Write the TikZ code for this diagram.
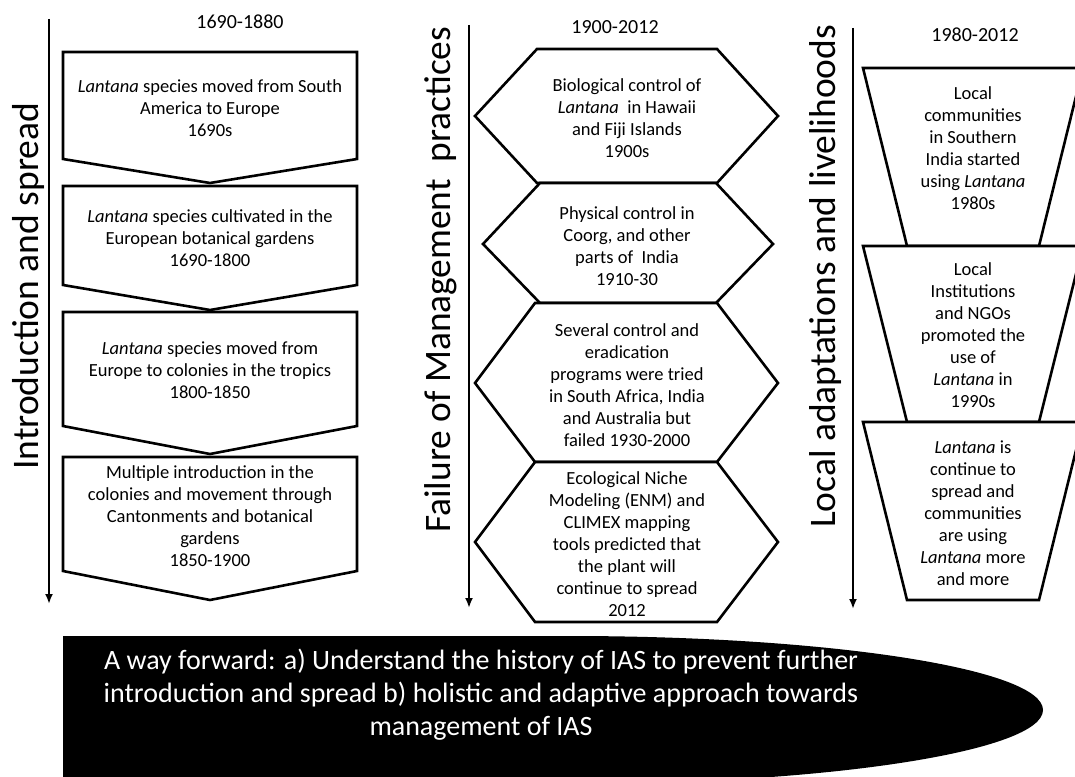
\documentclass[tikz,border=0pt]{standalone}
\usepackage{fontspec}
\setmainfont{Carlito}
\usetikzlibrary{arrows.meta}
\newcommand\myfs[2]{\fontsize{#1}{#2}\selectfont}
\begin{document}
\begin{tikzpicture}[x=1pt,y=-1pt,
  shapeline/.style={draw=black, line width=2.6pt, line join=miter, fill=white},
  boxtext/.style={align=center, font=\myfs{18.5}{22}, inner sep=0pt},
  hdr/.style={font=\myfs{20}{24}, inner sep=0pt},
  sidelabel/.style={rotate=90, anchor=base west, inner sep=0pt, font=\myfs{33}{40}},
  timeline/.style={line width=2pt, -{Latex[length=10pt,width=8pt]}},
  waytext/.style={align=center, text=white, font=\myfs{28}{33}, inner sep=0pt}]
\useasboundingbox (0,0) rectangle (1075,776);
\clip (0,0) rectangle (1075,776);

% ---------- left column ----------
\coordinate (lA) at (49,19);
\coordinate (lB) at (49,604);
\draw[timeline] (lA) -- (lB);
\node[sidelabel] (lab1) at (38,470) {\resizebox{367pt}{!}{\myfs{33}{40}Introduction and spread}};
\node[hdr] (h1) at (240,22) {1690-1880};

\draw[shapeline] (63,52) -- (357,52) -- (357,159) -- (210,183) -- (63,159) -- cycle;
\draw[shapeline] (63,186) -- (357,186) -- (357,285) -- (210,310) -- (63,285) -- cycle;
\draw[shapeline] (63,312) -- (357,312) -- (357,426) -- (210,454) -- (63,426) -- cycle;
\draw[shapeline] (63,457) -- (357,457) -- (357,571) -- (210,600) -- (63,571) -- cycle;

\node[boxtext] (p1) at (210,108) {\textit{Lantana} species moved from South\\America to Europe\\1690s};
\node[boxtext] (p2) at (210,238) {\textit{Lantana} species cultivated in the\\European botanical gardens\\1690-1800};
\node[boxtext] (p3) at (210,370) {\textit{Lantana} species moved from\\Europe to colonies in the tropics\\1800-1850};
\node[boxtext] (p4) at (210,516) {Multiple introduction in the\\colonies and movement through\\Cantonments and botanical\\gardens\\1850-1900};

% ---------- middle column ----------
\coordinate (mA) at (469,25);
\coordinate (mB) at (469,608);
\draw[timeline] (mA) -- (mB);
\node[sidelabel] (lab2) at (450,533) {\resizebox{506pt}{!}{\myfs{33}{40}Failure of Management\ \ practices}};
\node[hdr] (h2) at (615,27) {1900-2012};

\draw[shapeline] (537,49) -- (717,49) -- (778,116) -- (717,183) -- (537,183) -- (475,116) -- cycle;
\draw[shapeline] (540,183) -- (716,183) -- (773,244) -- (716,303) -- (540,303) -- (483,244) -- cycle;
\draw[shapeline] (535,303) -- (717,303) -- (778,383) -- (717,462) -- (535,462) -- (475,383) -- cycle;
\draw[shapeline] (535,462) -- (717,462) -- (778,542) -- (717,622) -- (535,622) -- (475,542) -- cycle;

\node[boxtext] (x1) at (627,118) {Biological control of\\\textit{Lantana}\ \ in Hawaii\\and Fiji Islands\\1900s};
\node[boxtext] (x2) at (627,246) {Physical control in\\Coorg, and other\\parts of\ \ India\\1910-30};
\node[boxtext] (x3) at (627,385) {Several control and\\eradication\\programs were tried\\in South Africa, India\\and Australia but\\failed 1930-2000};
\node[boxtext] (x4) at (627,544) {Ecological Niche\\Modeling (ENM) and\\CLIMEX mapping\\tools predicted that\\the plant will\\continue to spread\\2012};

% ---------- right column ----------
\coordinate (rA) at (853,28);
\coordinate (rB) at (853,609);
\draw[timeline] (rA) -- (rB);
\node[sidelabel] (lab3) at (835,528) {\resizebox{503pt}{!}{\myfs{33}{40}Local adaptations and livelihoods}};
\node[hdr] (h3) at (975,35) {1980-2012};

\draw[shapeline] (863,68) -- (1083,68) -- (1039,246) -- (907,246) -- cycle;
\draw[shapeline] (863,246) -- (1083,246) -- (1039,422) -- (907,422) -- cycle;
\draw[shapeline] (863,422) -- (1083,422) -- (1039,600) -- (907,600) -- cycle;

\node[boxtext] (t1) at (973,148) {Local\\communities\\in Southern\\India started\\using \textit{Lantana}\\1980s};
\node[boxtext] (t2) at (973,335) {Local\\Institutions\\and NGOs\\promoted the\\use of\\\textit{Lantana} in\\1990s};
\node[boxtext] (t3) at (973,513) {\textit{Lantana} is\\continue to\\spread and\\communities\\are using\\\textit{Lantana} more\\and more};

% ---------- bottom banner ----------
\fill[black] (63,636) -- (570,636) arc[start angle=90, end angle=-90, x radius=473pt, y radius=74pt] -- (63,784) -- cycle;
\node[waytext] (way) at (481,695) {A way forward: a) Understand the history of IAS to prevent further\\introduction and spread b) holistic and adaptive approach towards\\management of IAS};
\end{tikzpicture}
\end{document}
